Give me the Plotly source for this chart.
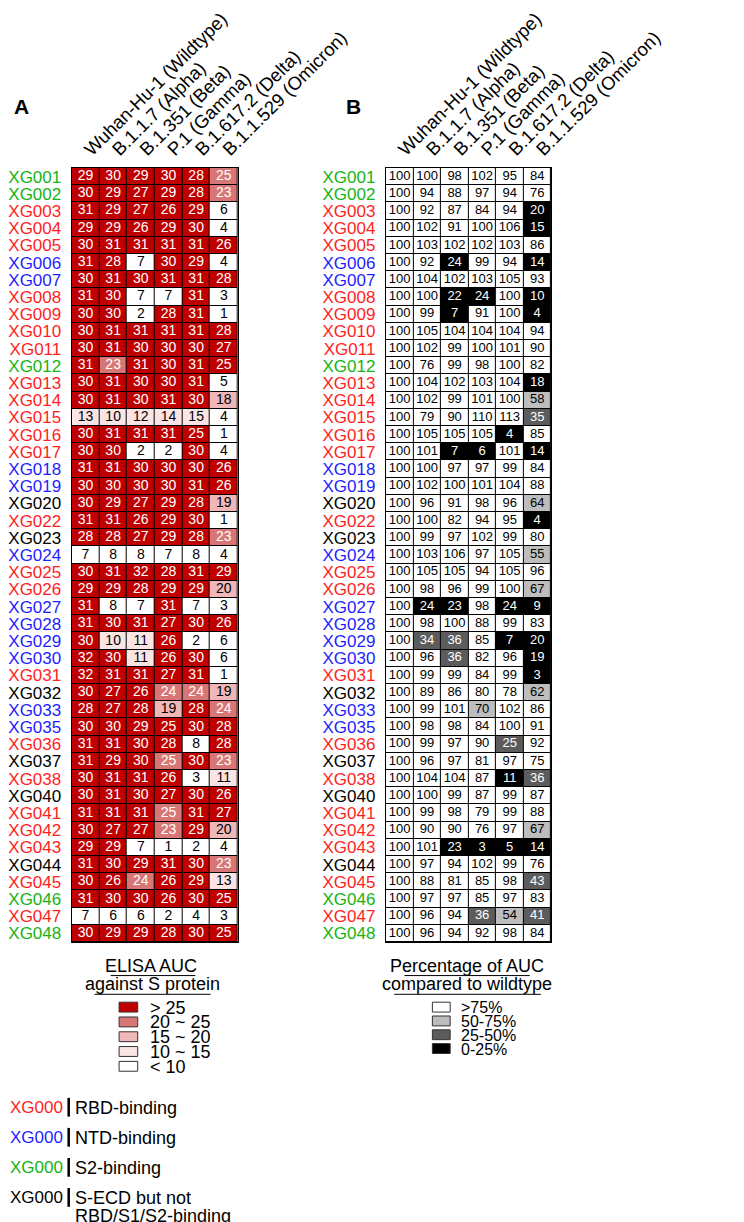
import plotly.graph_objects as go

# clone names, binding group of each clone, SARS-CoV-2 variants
clones = ["XG001", "XG002", "XG003", "XG004", "XG005", "XG006", "XG007", "XG008", "XG009",
          "XG010", "XG011", "XG012", "XG013", "XG014", "XG015", "XG016", "XG017", "XG018",
          "XG019", "XG020", "XG022", "XG023", "XG024", "XG025", "XG026", "XG027", "XG028",
          "XG029", "XG030", "XG031", "XG032", "XG033", "XG035", "XG036", "XG037", "XG038",
          "XG040", "XG041", "XG042", "XG043", "XG044", "XG045", "XG046", "XG047", "XG048"]
groups = ["S2", "S2", "RBD", "RBD", "RBD", "NTD", "NTD", "RBD", "RBD",
          "RBD", "RBD", "S2", "RBD", "RBD", "RBD", "RBD", "RBD", "NTD",
          "NTD", "other", "RBD", "other", "NTD", "RBD", "RBD", "NTD", "NTD",
          "NTD", "NTD", "RBD", "other", "NTD", "NTD", "RBD", "other", "RBD",
          "other", "RBD", "RBD", "RBD", "other", "RBD", "S2", "RBD", "S2"]
variants = ["Wuhan-Hu-1 (Wildtype)", "B.1.1.7 (Alpha)", "B.1.351 (Beta)",
            "P.1 (Gamma)", "B.1.617.2 (Delta)", "B.1.1.529 (Omicron)"]

# ELISA AUC against S protein
auc = [
    [29, 30, 29, 30, 28, 25], [30, 29, 27, 29, 28, 23], [31, 29, 27, 26, 29, 6],
    [29, 29, 26, 29, 30, 4], [30, 31, 31, 31, 31, 26], [31, 28, 7, 30, 29, 4],
    [30, 31, 30, 31, 31, 28], [31, 30, 7, 7, 31, 3], [30, 30, 2, 28, 31, 1],
    [30, 31, 31, 31, 31, 28], [30, 31, 30, 30, 30, 27], [31, 23, 31, 30, 31, 25],
    [30, 31, 30, 30, 31, 5], [30, 31, 30, 31, 30, 18], [13, 10, 12, 14, 15, 4],
    [30, 31, 31, 31, 25, 1], [30, 30, 2, 2, 30, 4], [31, 31, 30, 30, 30, 26],
    [30, 30, 30, 30, 31, 26], [30, 29, 27, 29, 28, 19], [31, 31, 26, 29, 30, 1],
    [28, 28, 27, 29, 28, 23], [7, 8, 8, 7, 8, 4], [30, 31, 32, 28, 31, 29],
    [29, 29, 28, 29, 29, 20], [31, 8, 7, 31, 7, 3], [31, 30, 31, 27, 30, 26],
    [30, 10, 11, 26, 2, 6], [32, 30, 11, 26, 30, 6], [32, 31, 31, 27, 31, 1],
    [30, 27, 26, 24, 24, 19], [28, 27, 28, 19, 28, 24], [30, 30, 29, 25, 30, 28],
    [31, 31, 30, 28, 8, 28], [31, 29, 30, 25, 30, 23], [30, 31, 31, 26, 3, 11],
    [30, 31, 30, 27, 30, 26], [31, 31, 31, 25, 31, 27], [30, 27, 27, 23, 29, 20],
    [29, 29, 7, 1, 2, 4], [31, 30, 29, 31, 30, 23], [30, 26, 24, 26, 29, 13],
    [31, 30, 30, 26, 30, 25], [7, 6, 6, 2, 4, 3], [30, 29, 29, 28, 30, 25],
]
# cells printed as 25 that fall in the "20 ~ 25" bin (clone, variant index)
auc_25_lower = [("XG001", 5), ("XG037", 3), ("XG041", 3)]

# percentage of AUC compared to wildtype
pct = [
    [100, 100, 98, 102, 95, 84], [100, 94, 88, 97, 94, 76], [100, 92, 87, 84, 94, 20],
    [100, 102, 91, 100, 106, 15], [100, 103, 102, 102, 103, 86], [100, 92, 24, 99, 94, 14],
    [100, 104, 102, 103, 105, 93], [100, 100, 22, 24, 100, 10], [100, 99, 7, 91, 100, 4],
    [100, 105, 104, 104, 104, 94], [100, 102, 99, 100, 101, 90], [100, 76, 99, 98, 100, 82],
    [100, 104, 102, 103, 104, 18], [100, 102, 99, 101, 100, 58], [100, 79, 90, 110, 113, 35],
    [100, 105, 105, 105, 4, 85], [100, 101, 7, 6, 101, 14], [100, 100, 97, 97, 99, 84],
    [100, 102, 100, 101, 104, 88], [100, 96, 91, 98, 96, 64], [100, 100, 82, 94, 95, 4],
    [100, 99, 97, 102, 99, 80], [100, 103, 106, 97, 105, 55], [100, 105, 105, 94, 105, 96],
    [100, 98, 96, 99, 100, 67], [100, 24, 23, 98, 24, 9], [100, 98, 100, 88, 99, 83],
    [100, 34, 36, 85, 7, 20], [100, 96, 36, 82, 96, 19], [100, 99, 99, 84, 99, 3],
    [100, 89, 86, 80, 78, 62], [100, 99, 101, 70, 102, 86], [100, 98, 98, 84, 100, 91],
    [100, 99, 97, 90, 25, 92], [100, 96, 97, 81, 97, 75], [100, 104, 104, 87, 11, 36],
    [100, 100, 99, 87, 99, 87], [100, 99, 98, 79, 99, 88], [100, 90, 90, 76, 97, 67],
    [100, 101, 23, 3, 5, 14], [100, 97, 94, 102, 99, 76], [100, 88, 81, 85, 98, 43],
    [100, 97, 97, 85, 97, 83], [100, 96, 94, 36, 54, 41], [100, 96, 94, 92, 98, 84],
]

auc_labels = ["> 25", "20 ~ 25", "15 ~ 20", "10 ~ 15", "< 10"]
pct_labels = [">75%", "50-75%", "25-50%", "0-25%"]
group_labels = [("RBD", ["RBD-binding"]), ("NTD", ["NTD-binding"]), ("S2", ["S2-binding"]),
                ("other", ["S-ECD but not", "RBD/S1/S2-binding"])]

W, H = 744, 1222
FONT = "Liberation Sans, Arial, Helvetica, sans-serif"
group_color = {"RBD": "#ff1e1e", "NTD": "#1e1eff", "S2": "#14b414", "other": "#000000"}
auc_colors = ["#ffffff", "#fbe4e4", "#efb7b7", "#d87676", "#c00000"]   # <10 ... >25
pct_colors = ["#ffffff", "#bdbdbd", "#5c5c5c", "#000000"]             # >75 ... 0-25


def px(x):
    return x / W


def py(y):
    return 1 - y / H


def auc_bin(v):
    if v >= 25:
        return 4
    if v > 20:
        return 3
    if v > 15:
        return 2
    if v >= 10:
        return 1
    return 0


def pct_bin(v):
    if v >= 75:
        return 0
    if v >= 50:
        return 1
    if v >= 25:
        return 2
    return 3


def step_scale(colors):
    n = len(colors)
    cs = []
    for i, c in enumerate(colors):
        cs.append([i / n, c])
        cs.append([(i + 1) / n, c])
    return cs


auc_z = [[auc_bin(v) for v in row] for row in auc]
for name, j in auc_25_lower:
    auc_z[clones.index(name)][j] = 3
pct_z = [[pct_bin(v) for v in row] for row in pct]

# flat lists for the text overlay
xs, ys, auc_txt, auc_col, pct_txt, pct_col = [], [], [], [], [], []
for i, c in enumerate(clones):
    for j, v in enumerate(variants):
        xs.append(v)
        ys.append(c)
        auc_txt.append(str(auc[i][j]))
        auc_col.append("white" if auc_z[i][j] >= 3 else "black")
        pct_txt.append(str(pct[i][j]))
        pct_col.append("white" if pct_z[i][j] >= 2 else "black")

fig = go.Figure()

# Panel A heatmap
fig.add_trace(go.Heatmap(
    x=variants, y=clones, z=auc_z, zmin=-0.5, zmax=4.5,
    colorscale=step_scale(auc_colors), showscale=False,
    xgap=1, ygap=1, hoverinfo="skip", xaxis="x", yaxis="y"))
fig.add_trace(go.Scatter(
    x=xs, y=ys, text=auc_txt, mode="text",
    textfont=dict(family=FONT, size=14, color=auc_col),
    hoverinfo="skip", showlegend=False, xaxis="x", yaxis="y"))

# Panel B heatmap
fig.add_trace(go.Heatmap(
    x=variants, y=clones, z=pct_z, zmin=-0.5, zmax=3.5,
    colorscale=step_scale(pct_colors), showscale=False,
    xgap=1, ygap=1, hoverinfo="skip", xaxis="x2", yaxis="y2"))
fig.add_trace(go.Scatter(
    x=xs, y=ys, text=pct_txt, mode="text",
    textfont=dict(family=FONT, size=13, color=pct_col),
    hoverinfo="skip", showlegend=False, xaxis="x2", yaxis="y2"))

ticktext = ["<span style='color:%s'>%s</span>" % (group_color[g], c) for c, g in zip(clones, groups)]

grid_top, grid_bottom = 146, 931
xcommon = dict(side="top", tickangle=-45, ticks="", showgrid=False, zeroline=False,
               showline=True, mirror=True, linecolor="black", linewidth=1,
               range=[-0.5, len(variants) - 0.5],
               tickfont=dict(family=FONT, size=18.5, color="black"), fixedrange=True)
ycommon = dict(range=[len(clones) - 0.5, -0.5], ticks="", showgrid=False, zeroline=False,
               showline=True, mirror=True, linecolor="black", linewidth=1,
               tickmode="array", tickvals=clones, ticktext=ticktext, ticklabelstandoff=6,
               tickfont=dict(family=FONT, size=17), fixedrange=True,
               domain=[py(grid_bottom), py(grid_top)])

fig.update_layout(
    width=W, height=H, margin=dict(l=0, r=0, t=0, b=0),
    paper_bgcolor="white", plot_bgcolor="black", showlegend=False,
    font=dict(family=FONT, color="black"),
    xaxis=dict(domain=[px(74), px(270)], anchor="y", **xcommon),
    yaxis=dict(anchor="x", **ycommon),
    xaxis2=dict(domain=[px(445), px(640)], anchor="y2", **xcommon),
    yaxis2=dict(anchor="x2", **ycommon),
)

shapes, annotations = [], []


def text(x, y, s, size=18, color="black", anchor="left", bold=False):
    annotations.append(dict(
        x=px(x), y=py(y), xref="paper", yref="paper", text="<b>%s</b>" % s if bold else s,
        showarrow=False, xanchor=anchor, yanchor="middle",
        font=dict(family=FONT, size=size, color=color)))


def line(x0, y0, x1, y1, width=1):
    shapes.append(dict(type="line", xref="paper", yref="paper",
                       x0=px(x0), y0=py(y0), x1=px(x1), y1=py(y1),
                       line=dict(color="black", width=width)))


# panel letters
text(3, 84, "A", size=21, bold=True)
text(396, 84, "B", size=21, bold=True)

# legend A
text(168, 955, "ELISA AUC", anchor="center")
text(170, 974, "against S protein", anchor="center")
line(120, 965, 220, 965)
line(101, 984, 238, 984)
for k, lab in enumerate(auc_labels):
    yc = 997 + 15 * k
    shapes.append(dict(type="rect", xref="paper", yref="paper",
                       x0=px(130), x1=px(152), y0=py(yc - 5), y1=py(yc + 5),
                       fillcolor=auc_colors[4 - k], line=dict(color="#333333", width=1)))
    text(164, yc + 0.5, lab, size=18)

# legend B
text(541, 955, "Percentage of AUC", anchor="center")
text(541, 974, "compared to wildtype", anchor="center")
line(467, 965, 615, 965)
line(455, 984, 628, 984)
for k, lab in enumerate(pct_labels):
    yc = 997 + 14 * k
    shapes.append(dict(type="rect", xref="paper", yref="paper",
                       x0=px(500), x1=px(521), y0=py(yc - 5), y1=py(yc + 5),
                       fillcolor=pct_colors[k], line=dict(color="#333333", width=1)))
    text(531, yc + 0.5, lab, size=16)

# binding group key
for k, (g, desc) in enumerate(group_labels):
    yc = 1099 + 30.5 * k
    text(66, yc, "XG000", size=17, color=group_color[g], anchor="right")
    shapes.append(dict(type="rect", xref="paper", yref="paper",
                       x0=px(69), x1=px(72), y0=py(yc - 10), y1=py(yc + 9),
                       fillcolor="black", line=dict(width=0)))
    for m, d in enumerate(desc):
        text(75, yc + 18 * m, d, size=18)

fig.update_layout(shapes=shapes, annotations=annotations)

fig.write_html("out.html")
